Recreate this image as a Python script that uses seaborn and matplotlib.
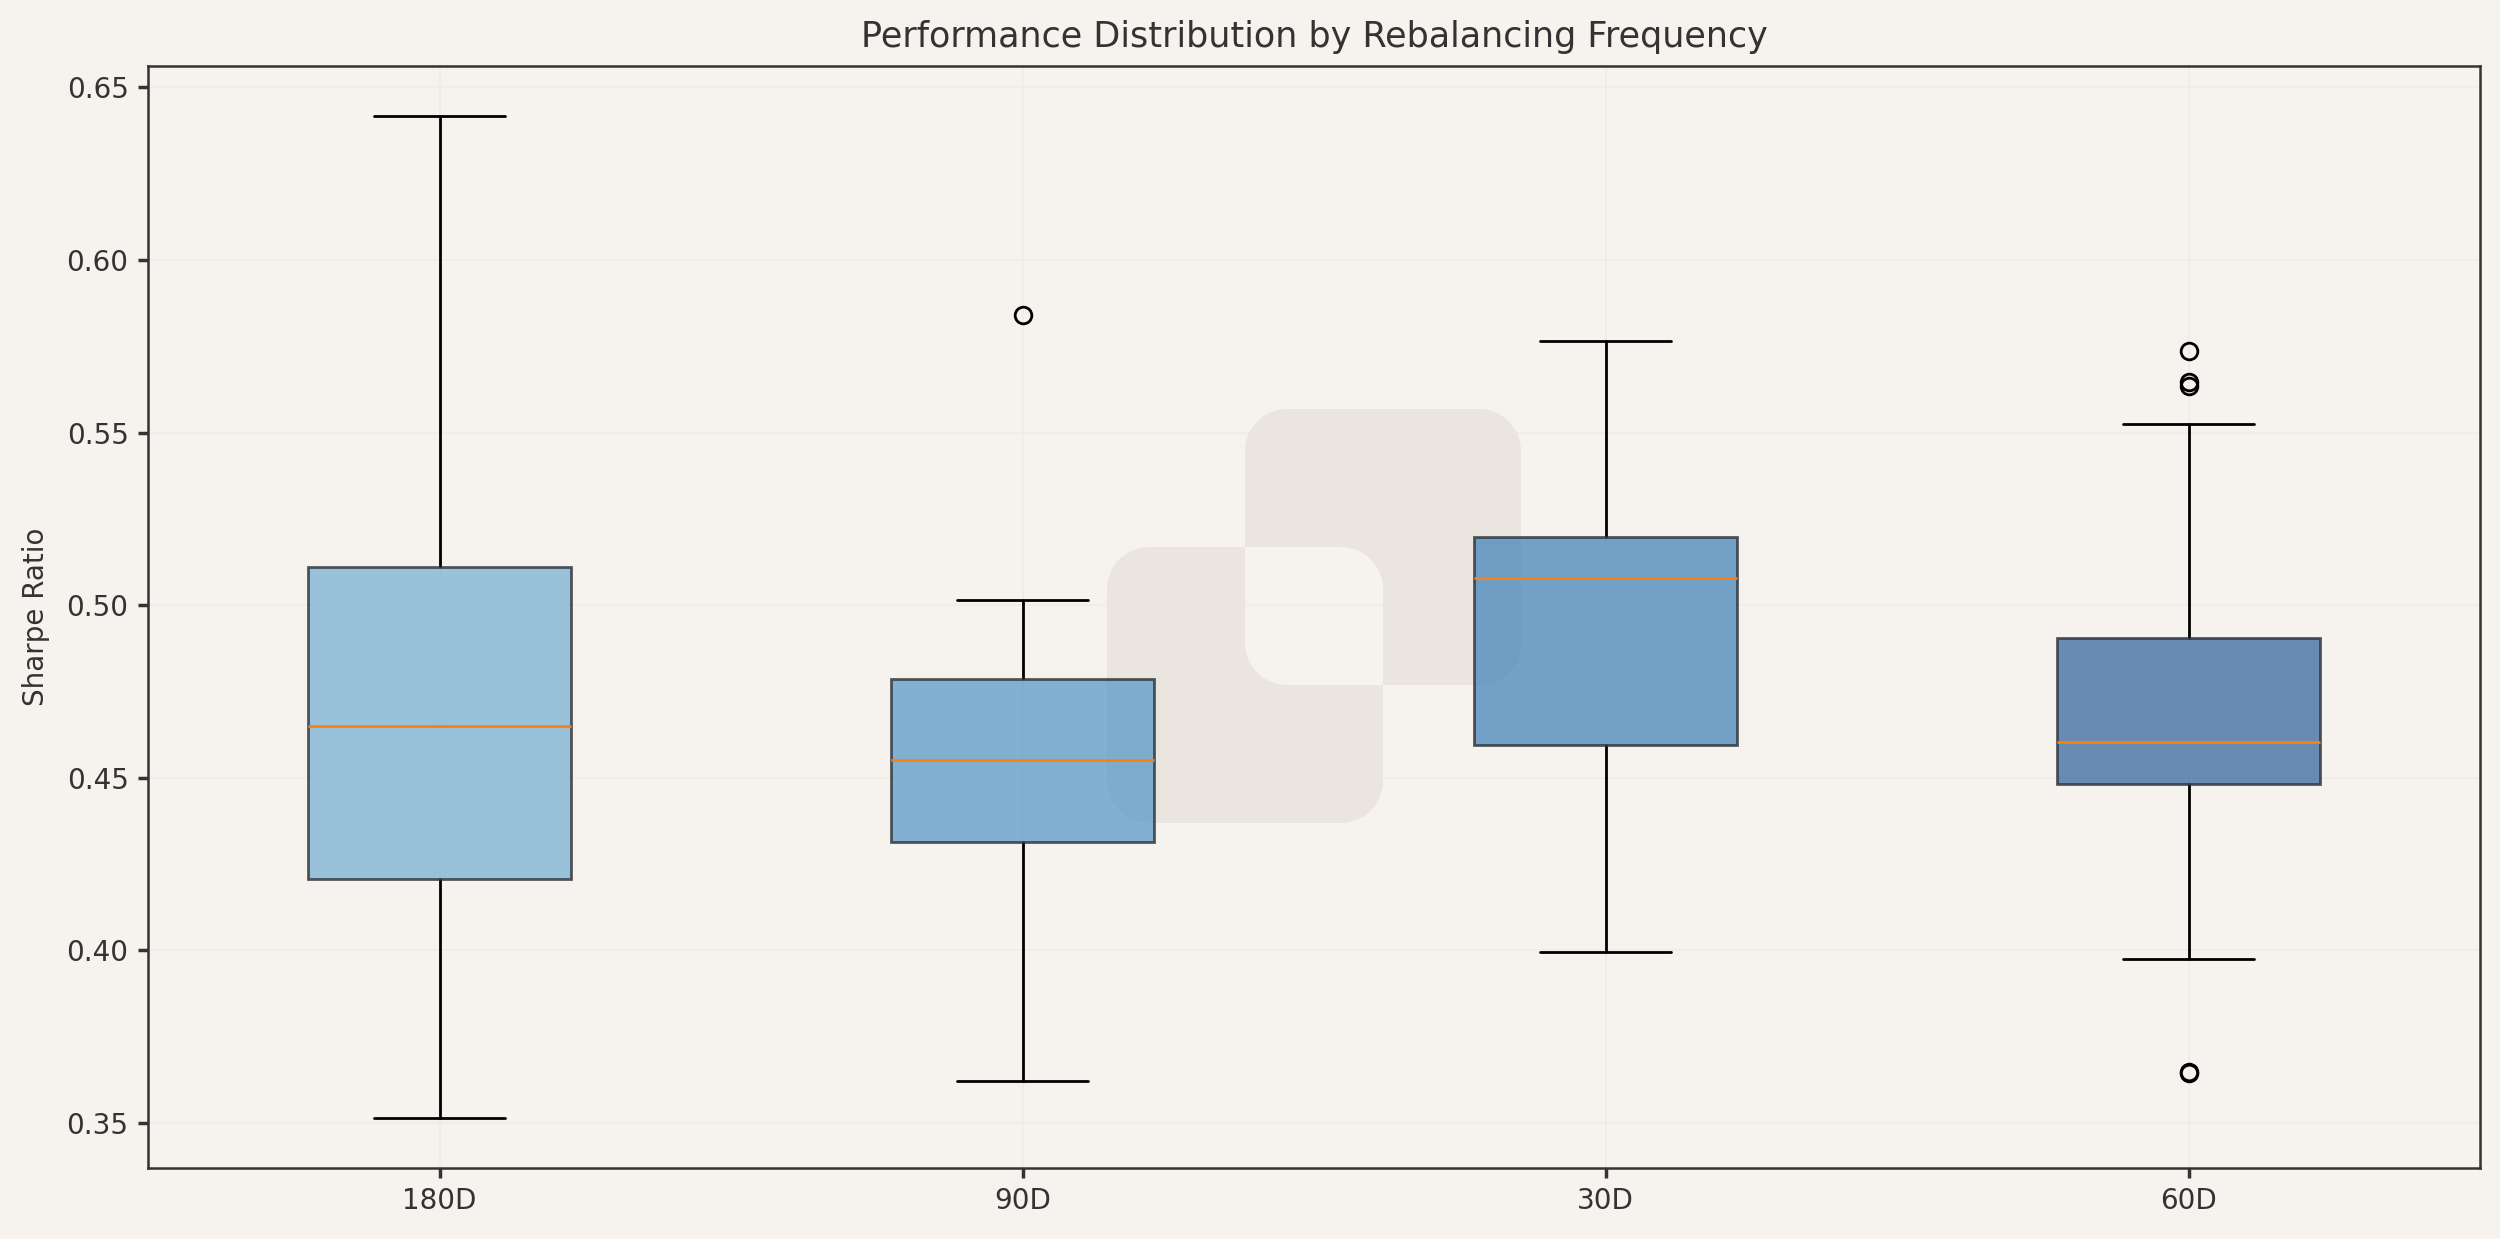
import matplotlib
matplotlib.use('Agg')
import matplotlib.pyplot as plt
import seaborn as sns
import numpy as np
from matplotlib.path import Path
from matplotlib.patches import PathPatch
from matplotlib.colors import to_rgba

# box summary values (Sharpe ratio)
freqs = ['180D', '90D', '30D', '60D']
whis_lo = [0.3515, 0.3621, 0.3995, 0.3974]
q1 = [0.4207, 0.4313, 0.4595, 0.4483]
median = [0.4650, 0.4553, 0.5079, 0.4604]
q3 = [0.5111, 0.4787, 0.5199, 0.4905]
whis_hi = [0.6417, 0.5014, 0.5766, 0.5526]
outliers = [[], [0.5840], [], [0.5738, 0.5648, 0.5634, 0.3648, 0.3646]]

box_colors = ['#73add3', '#5094c4', '#3b7db8', '#2a609a']

BG = '#f6f2ed'
sns.set_theme(style='whitegrid', rc={
    'axes.facecolor': BG, 'figure.facecolor': BG,
    'axes.edgecolor': '#333333', 'axes.linewidth': 0.9,
    'grid.color': '#efebe5', 'grid.linewidth': 0.6,
    'xtick.color': '#333333', 'ytick.color': '#333333',
    'text.color': '#333333', 'axes.labelcolor': '#333333',
    'xtick.bottom': True, 'ytick.left': True,
    'xtick.major.size': 3.5, 'ytick.major.size': 3.5,
})
plt.rcParams['font.family'] = ['DejaVu Sans']

fig = plt.figure(figsize=(12.5, 6.195), dpi=200)
ax = fig.add_axes([0.0592, 0.0573, 0.9328, 0.8894])

stats = []
for i, name in enumerate(freqs):
    stats.append(dict(label=name, whislo=whis_lo[i], q1=q1[i], med=median[i],
                      q3=q3[i], whishi=whis_hi[i], fliers=outliers[i]))

bp = ax.bxp(stats, patch_artist=True, widths=0.45,
            medianprops=dict(color='#ff7f0e', linewidth=1.0),
            whiskerprops=dict(color='black', linewidth=1.0),
            capprops=dict(color='black', linewidth=1.0),
            flierprops=dict(marker='o', markerfacecolor='none',
                            markeredgecolor='black', markersize=6))
for patch, c in zip(bp['boxes'], box_colors):
    patch.set_facecolor(to_rgba(c, 0.7))
    patch.set_edgecolor(to_rgba('#2b3036', 0.8))
    patch.set_linewidth(1.0)
    patch.set_zorder(3)
for ln in bp['medians']:
    ln.set_zorder(4)


# faint two-square watermark behind the boxes (inches in figure)
def rounded_rect(x0, y0, w, h, r, n=12, rev=False):
    pts = []
    corners = [(x0 + w - r, y0 + r, -90), (x0 + w - r, y0 + h - r, 0),
               (x0 + r, y0 + h - r, 90), (x0 + r, y0 + r, 180)]
    for cx, cy, a0 in corners:
        for t in np.linspace(a0, a0 + 90, n):
            pts.append((cx + r * np.cos(np.radians(t)), cy + r * np.sin(np.radians(t))))
    if rev:
        pts = pts[::-1]
    pts.append(pts[0])
    codes = [Path.MOVETO] + [Path.LINETO] * (len(pts) - 2) + [Path.CLOSEPOLY]
    return pts, codes

side = 1.38
v1, c1 = rounded_rect(5.535, 2.08, side, side, 0.21)
v2, c2 = rounded_rect(5.535 + side / 2, 2.08 + side / 2, side, side, 0.21, rev=True)
wm = PathPatch(Path(v1 + v2, c1 + c2), facecolor='#eae5df', edgecolor='none',
               transform=fig.dpi_scale_trans, zorder=1)
ax.add_patch(wm)

ax.grid(True, axis='both', zorder=0)
ax.set_axisbelow(True)
ax.set_xlim(0.5, 4.5)
ax.set_title('Performance Distribution by Rebalancing Frequency', fontsize=12.6, pad=7)
ax.set_ylabel('Sharpe Ratio', fontsize=10)
ax.yaxis.labelpad = 6
ax.tick_params(labelsize=10)
for s in ax.spines.values():
    s.set_visible(True)

fig.savefig('out.png', dpi=200, facecolor=BG)
